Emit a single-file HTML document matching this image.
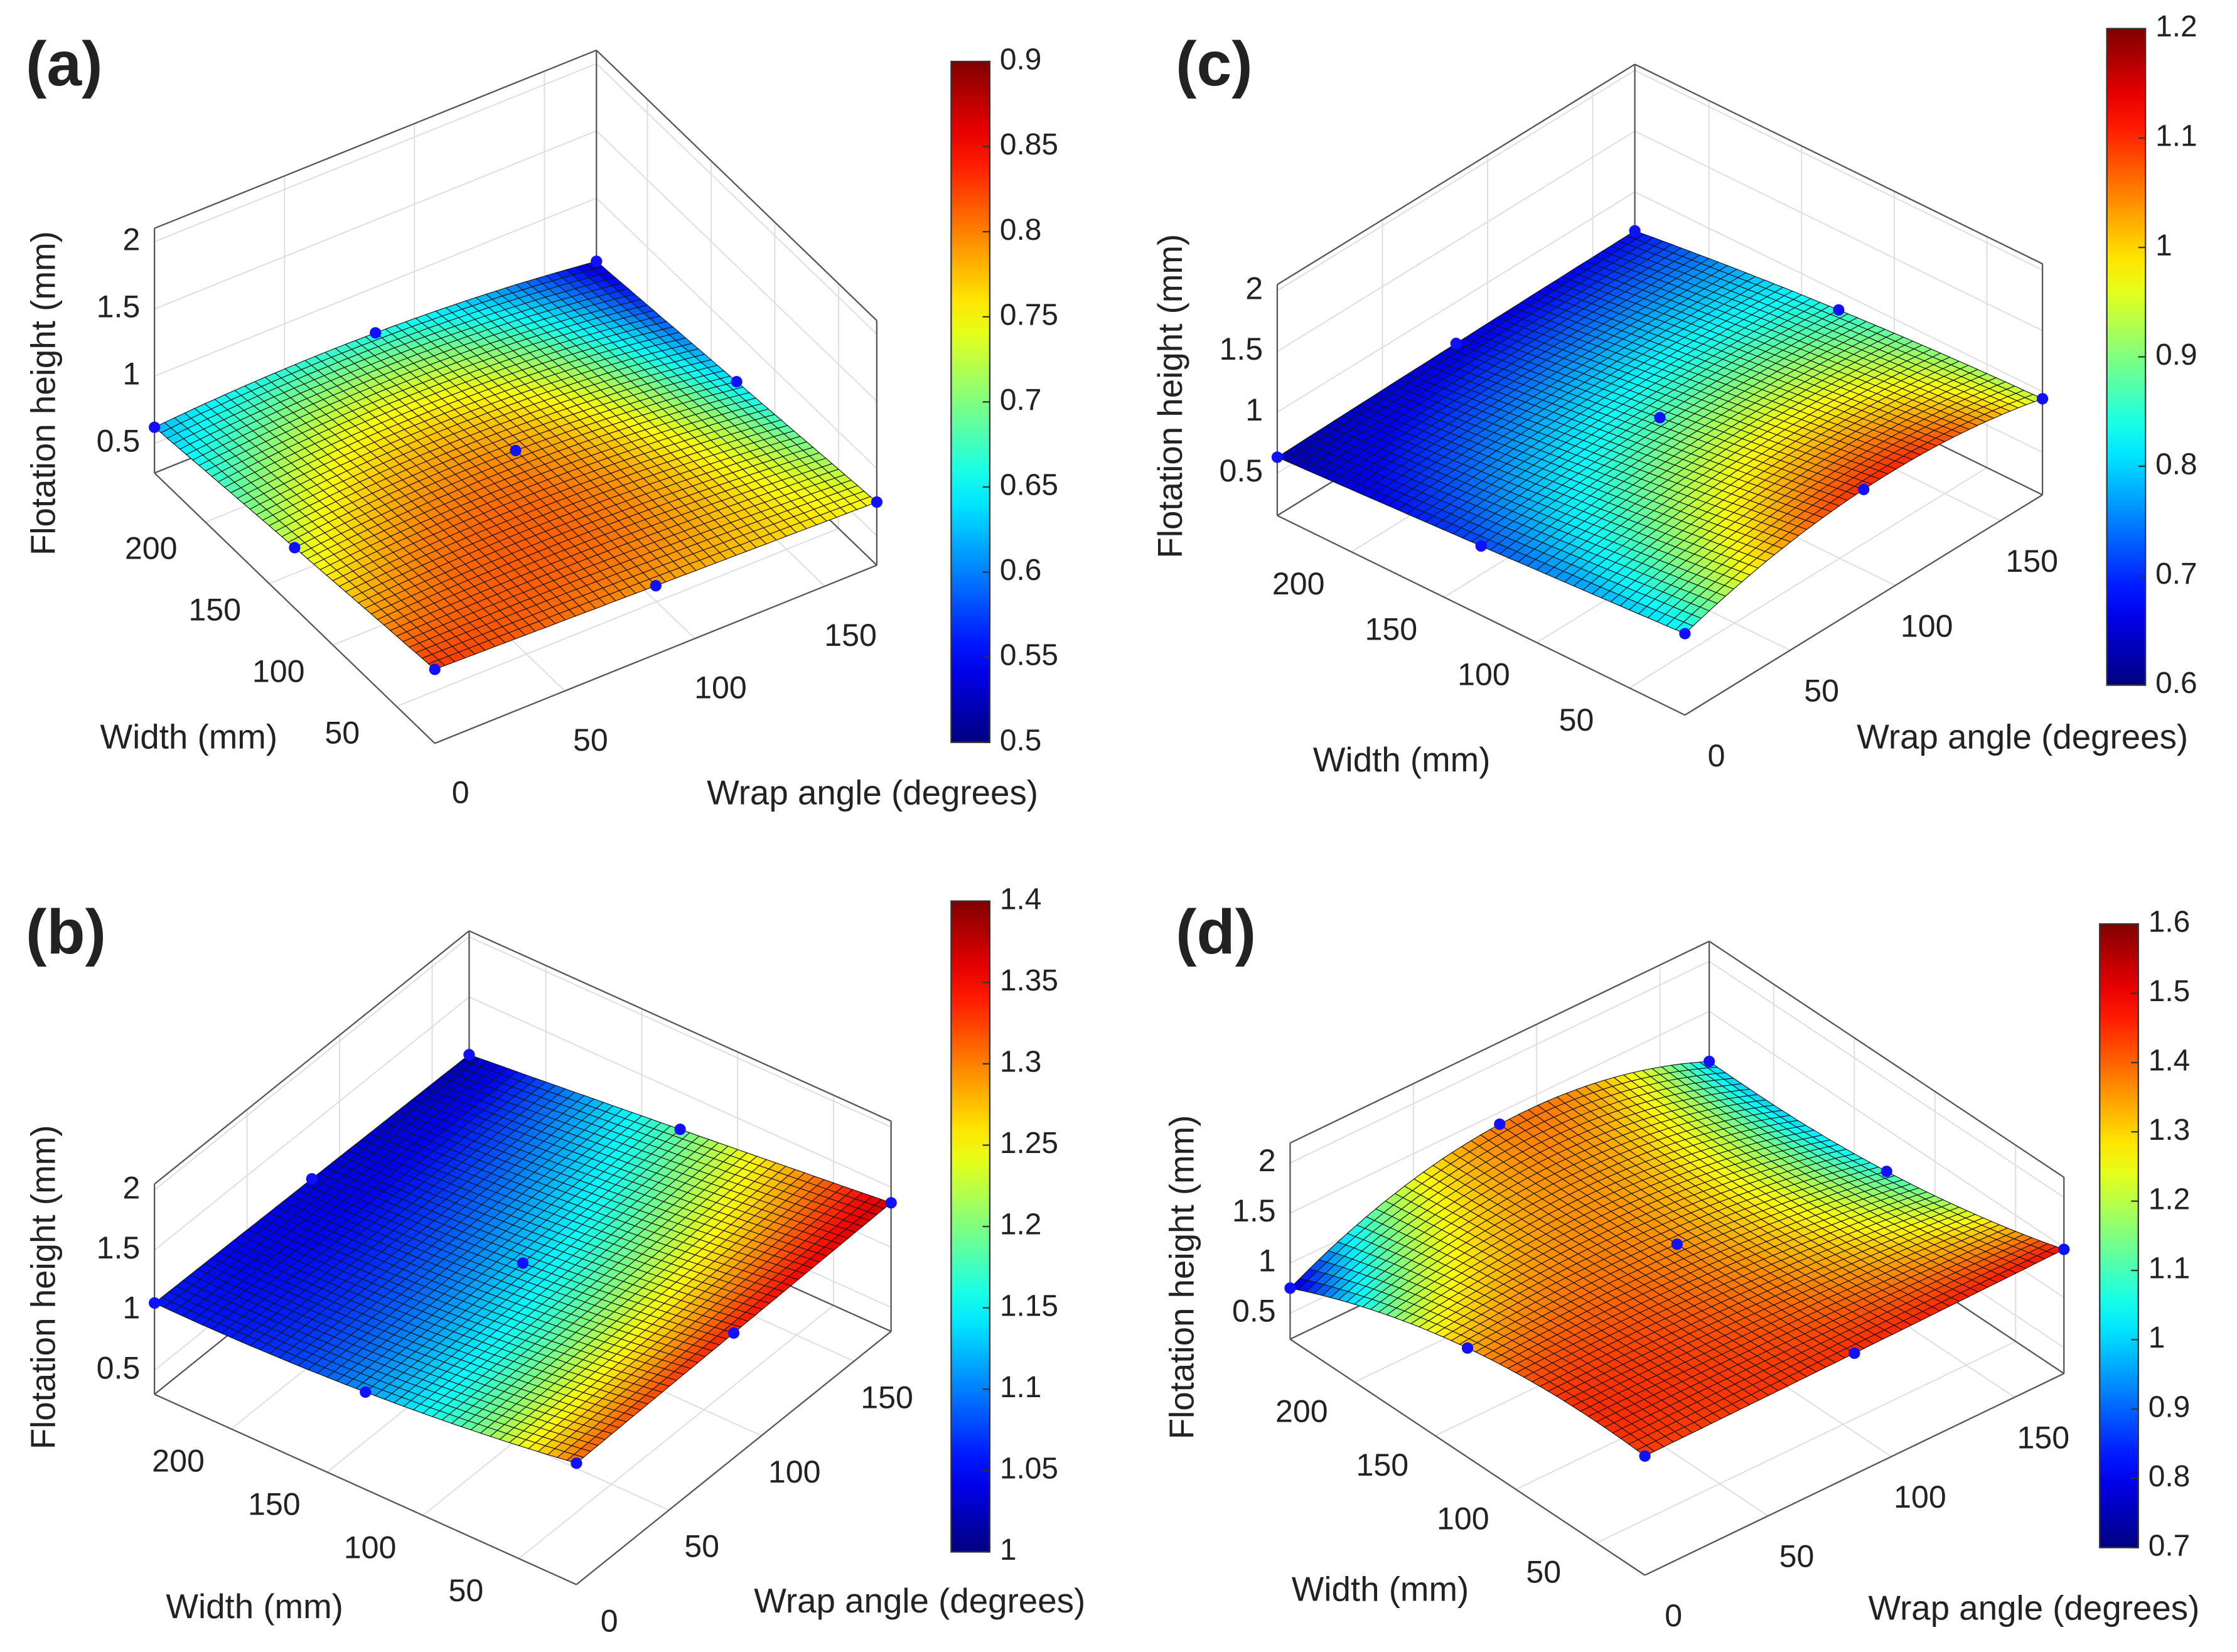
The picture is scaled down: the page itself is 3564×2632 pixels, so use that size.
<!DOCTYPE html>
<html><head><meta charset="utf-8"><style>
html,body{margin:0;padding:0;background:#fff;}
svg{display:block;}
text{font-family:"Liberation Sans",sans-serif;fill:#222;}
</style></head><body>
<svg id="fig" xmlns="http://www.w3.org/2000/svg" width="3564" height="2632" viewBox="0 0 1564 1155" preserveAspectRatio="none">
<rect x="0" y="0" width="1564" height="1155" fill="#fff"/>
</svg>
<script>
// data: 3x3 grids, row = width index (min, mid, max), column = wrap angle index (0, mid, max)
const valuesA = [[0.83,0.79,0.75],[0.73,0.79,0.64],[0.62,0.66,0.53]];
const valuesB = [[1.31,1.34,1.37],[1.11,1.13,1.19],[1.06,1.04,1.02]];
const valuesC = [[0.82,1.10,0.94],[0.72,0.87,0.85],[0.63,0.66,0.68]];
const valuesD = [[1.43,1.45,1.48],[1.33,1.36,1.08],[0.75,1.38,1.00]];
const widthTicks = [50,100,150,200];
const angleTicks = [0,50,100,150];
const zTicks = [0.5,1,1.5,2];
const cbTicksA = [0.5,0.55,0.6,0.65,0.7,0.75,0.8,0.85,0.9];
const cbTicksB = [1,1.05,1.1,1.15,1.2,1.25,1.3,1.35,1.4];
const cbTicksC = [0.6,0.7,0.8,0.9,1,1.1,1.2];
const cbTicksD = [0.7,0.8,0.9,1,1.1,1.2,1.3,1.4,1.5,1.6];
const panelLabels = ['(a)','(b)','(c)','(d)'];

const W_MIN=20, W_MAX=240, A_MAX=170;
const NS='http://www.w3.org/2000/svg';
const svg=document.getElementById('fig');

const panels=[
 {id:'a',vals:valuesA,cb:cbTicksA,F:[304,468],zRef:0.83,dW:[-196,-189],dA:[309,-124.5],kz:94,zmin:0.28,zmax:2.1,
  cbx:665,cby0:43,cby1:519,lab:[18,48],yt:[32,275],wt:[132,517],at:[610,556],wo:[-38,20],ao:[18,36]},
 {id:'b',vals:valuesB,cb:cbTicksB,F:[403,1023],zRef:1.31,dW:[-295,-133],dA:[220,-177],kz:84,zmin:0.3,zmax:2.05,
  cbx:665,cby0:630,cby1:1085,lab:[18,655],yt:[32,900],wt:[178,1125],at:[643,1121],wo:[-37,24],ao:[23,27]},
 {id:'c',vals:valuesC,cb:cbTicksC,F:[1178,443],zRef:0.82,dW:[-285,-139.5],dA:[250,-154],kz:85,zmin:0.15,zmax:2.05,
  cbx:1473,cby0:20,cby1:479,lab:[822,48],yt:[820,277],wt:[980,533],at:[1414,517],wo:[-37,24],ao:[22,30]},
 {id:'d',vals:valuesD,cb:cbTicksD,F:[1150,1018],zRef:1.43,dW:[-248,-165],dA:[293,-141],kz:70,zmin:0.24,zmax:2.2,
  cbx:1468,cby0:646,cby1:1082,lab:[822,655],yt:[828,893],wt:[965,1113],at:[1422,1126],wo:[-37,22],ao:[20,30]}
];

function jet(t){t=Math.max(0,Math.min(1,t));
 const r=Math.max(0,Math.min(1,1.5-Math.abs(4*t-3)));
 const g=Math.max(0,Math.min(1,1.5-Math.abs(4*t-2)));
 const b=Math.max(0,Math.min(1,1.5-Math.abs(4*t-1)));
 return 'rgb('+Math.round(r*255)+','+Math.round(g*255)+','+Math.round(b*255)+')';}
function L(t){return [2*(t-0.5)*(t-1),-4*t*(t-1),2*t*(t-0.5)];}
function interp(v,u,w){const a=L(u),b=L(w);let s=0;for(let i=0;i<3;i++)for(let j=0;j<3;j++)s+=a[i]*b[j]*v[i][j];return s;}
function mk(tag,attrs,parent){const e=document.createElementNS(NS,tag);for(const k in attrs)e.setAttribute(k,attrs[k]);(parent||svg).appendChild(e);return e;}

panels.forEach((p,pi)=>{
 const g=mk('g',{});
 
 
 const proj=(u,v,z)=>[p.F[0]+u*p.dW[0]+v*p.dA[0], p.F[1]+u*p.dW[1]+v*p.dA[1]-(z-p.zRef)*p.kz];
 const uw=w=>(w-W_MIN)/(W_MAX-W_MIN), va=a=>a/A_MAX;
 const line=(P,Q,col,sw,name)=>{const l=mk('line',{x1:P[0],y1:P[1],x2:Q[0],y2:Q[1],stroke:col,'stroke-width':sw},g);
  return l;};
 const gc='#dcdcdc';
 widthTicks.forEach(w=>{const u=uw(w);
  line(proj(u,0,p.zmin),proj(u,1,p.zmin),gc,0.8,'floor-grid-width');
  line(proj(u,1,p.zmin),proj(u,1,p.zmax),gc,0.8,'wall-grid-width');});
 angleTicks.forEach(a=>{const v=va(a);
  line(proj(0,v,p.zmin),proj(1,v,p.zmin),gc,0.8,'floor-grid-angle');
  line(proj(1,v,p.zmin),proj(1,v,p.zmax),gc,0.8,'wall-grid-angle');});
 zTicks.forEach(z=>{
  line(proj(1,0,z),proj(1,1,z),gc,0.8,'wall-grid-z');
  line(proj(1,1,z),proj(0,1,z),gc,0.8,'wall-grid-z');});
 const bc='#555';
 line(proj(1,0,p.zmin),proj(1,1,p.zmin),bc,1,'box-edge');
 line(proj(1,1,p.zmin),proj(0,1,p.zmin),bc,1,'box-edge');
 line(proj(1,1,p.zmin),proj(1,1,p.zmax),bc,1,'box-edge');
 line(proj(1,0,p.zmin),proj(1,0,p.zmax),bc,1,'z-axis');
 line(proj(0,1,p.zmin),proj(0,1,p.zmax),bc,1,'box-edge');
 line(proj(1,0,p.zmax),proj(1,1,p.zmax),bc,1,'box-edge');
 line(proj(1,1,p.zmax),proj(0,1,p.zmax),bc,1,'box-edge');
 line(proj(0,0,p.zmin),proj(1,0,p.zmin),bc,1,'width-axis');
 line(proj(0,0,p.zmin),proj(0,1,p.zmin),bc,1,'angle-axis');
 const N=44, cmin=p.cb[0], cmax=p.cb[p.cb.length-1];
 const cells=[];
 for(let i=0;i<N;i++)for(let j=0;j<N;j++)cells.push([i,j]);
 cells.sort((A,B)=>(B[0]+B[1])-(A[0]+A[1]));
 const sg=mk('g',{},g);
 
 
 cells.forEach(([i,j])=>{
  const pts=[[i,j],[i+1,j],[i+1,j+1],[i,j+1]].map(([a,b])=>{const u=a/N,v=b/N;return proj(u,v,interp(p.vals,u,v));});
  const zc=interp(p.vals,(i+0.5)/N,(j+0.5)/N);
  const poly=mk('polygon',{points:pts.map(q=>q[0].toFixed(1)+','+q[1].toFixed(1)).join(' '),fill:jet((zc-cmin)/(cmax-cmin)),stroke:'#151515','stroke-width':0.5},sg);
  
  
 });
 for(let i=0;i<3;i++)for(let j=0;j<3;j++){
  const q=proj(i/2,j/2,p.vals[i][j]);
  const c=mk('circle',{cx:q[0],cy:q[1],r:4,fill:'#1010ff'},g);
  
  
 }
 const txt=(x,y,s,size,anchor,name,extra)=>{const t=mk('text',Object.assign({x:x,y:y,'font-size':size,'text-anchor':anchor,'dominant-baseline':'middle'},extra||{}),g);t.textContent=s;
  return t;};
 widthTicks.forEach(w=>{const q=proj(uw(w),0,p.zmin);txt(q[0]+p.wo[0],q[1]+p.wo[1],String(w),22,'middle','width-tick-label');});
 angleTicks.forEach(a=>{const q=proj(0,va(a),p.zmin);txt(q[0]+p.ao[0],q[1]+p.ao[1],String(a),22,'middle','angle-tick-label');});
 zTicks.forEach(z=>{const q=proj(1,0,z);txt(q[0]-10,q[1],String(z),22,'end','z-tick-label');});
 txt(p.lab[0],p.lab[1],panelLabels[pi],44,'start','panel-label',{'font-weight':'bold'});
 txt(p.yt[0],p.yt[1],'Flotation height (mm)',24,'middle','z-axis-title',{transform:'rotate(-90 '+p.yt[0]+' '+p.yt[1]+')'});
 txt(p.wt[0],p.wt[1],'Width (mm)',24,'middle','width-axis-title');
 txt(p.at[0],p.at[1],'Wrap angle (degrees)',24,'middle','angle-axis-title');
 const gid='grad'+p.id;
 const defs=mk('defs',{},g);
 const lg=mk('linearGradient',{id:gid,x1:0,y1:1,x2:0,y2:0},defs);
 for(let k=0;k<=20;k++)mk('stop',{offset:k/20,'stop-color':jet(k/20)},lg);
 const cbr=mk('rect',{x:p.cbx,y:p.cby0,width:27,height:p.cby1-p.cby0,fill:'url(#'+gid+')',stroke:'#333','stroke-width':1},g);
 
 
 p.cb.forEach(v=>{const y=p.cby1-(v-cmin)/(cmax-cmin)*(p.cby1-p.cby0);
  line([p.cbx+27,y],[p.cbx+22,y],'#333',1,'colorbar-tick');
  txt(p.cbx+34,y,String(v),21,'start','colorbar-tick-label');});
});
</script>
</body></html>
